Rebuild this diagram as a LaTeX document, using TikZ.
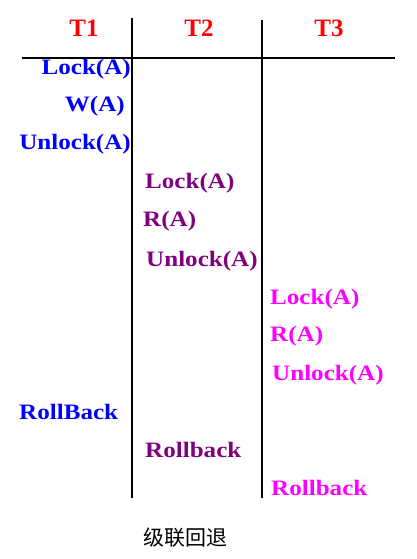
\documentclass[tikz,border=0pt]{standalone}
\usepackage{fontspec}
\setmainfont{Liberation Serif}
\newfontfamily\opfont[FakeStretch=1.14]{Liberation Serif}
\newfontfamily\cjk{Noto Sans CJK SC}
\definecolor{tblue}{RGB}{0,0,255}
\definecolor{tpurple}{RGB}{128,0,128}
\definecolor{tmag}{RGB}{255,0,255}
\definecolor{tred}{RGB}{255,0,0}
\begin{document}
\begin{tikzpicture}[x=1pt,y=-1pt,
  hdr/.style={text=tred,font=\fontsize{25}{28}\selectfont\bfseries,inner sep=0pt},
  op/.style={font=\opfont\fontsize{22}{25}\selectfont\bfseries,inner sep=0pt},
  rule/.style={line width=2pt,black}]
\useasboundingbox[fill=white] (0,0) rectangle (416,559);
% headers
\node[hdr] (h1) at (84,28) {T1};
\node[hdr] (h2) at (199,28) {T2};
\node[hdr] (h3) at (329,28) {T3};
% lines
\coordinate (v1t) at (132,18); \coordinate (v1b) at (132,498);
\coordinate (v2t) at (262,20); \coordinate (v2b) at (262,498);
\coordinate (hl) at (22,58); \coordinate (hr) at (395,58);
\draw[rule] (v1t) -- (v1b);
\draw[rule] (v2t) -- (v2b);
\draw[rule] (hl) -- (hr);
% T1
\node[op,text=tblue,anchor=east] (a1) at (131,69) {Lock(A)};
\node[op,text=tblue,anchor=east] (a2) at (125,106) {W(A)};
\node[op,text=tblue,anchor=east] (a3) at (131,144) {Unlock(A)};
\node[op,text=tblue,anchor=west] (a4) at (19,412) {RollBack};
% T2
\node[op,text=tpurple,anchor=west] (b1) at (145,183) {Lock(A)};
\node[op,text=tpurple,anchor=west] (b2) at (143,221) {R(A)};
\node[op,text=tpurple,anchor=west] (b3) at (146,261) {Unlock(A)};
\node[op,text=tpurple,anchor=west] (b4) at (145,450) {Rollback};
% T3
\node[op,text=tmag,anchor=west] (c1) at (270,299) {Lock(A)};
\node[op,text=tmag,anchor=west] (c2) at (270,336) {R(A)};
\node[op,text=tmag,anchor=west] (c3) at (272,375) {Unlock(A)};
\node[op,text=tmag,anchor=west] (c4) at (271,488) {Rollback};
% caption
\node[font=\cjk\fontsize{21}{24}\selectfont,inner sep=0pt,anchor=west] (cap) at (143,538) {级联回退};
\end{tikzpicture}
\end{document}
